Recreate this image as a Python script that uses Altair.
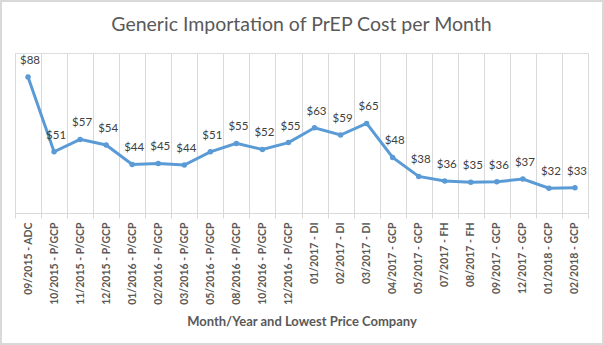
import altair as alt
import pandas as pd

months = ["09/2015 - ADC", "10/2015 - P/GCP", "11/2015 - P/GCP", "12/2015 - P/GCP",
          "01/2016 - P/GCP", "02/2016 - P/GCP", "03/2016 - P/GCP", "05/2016 - P/GCP",
          "08/2016 - P/GCP", "10/2016 - P/GCP", "12/2016 - P/GCP", "01/2017 - DI",
          "02/2017 - DI", "03/2017 - DI", "04/2017 - GCP", "05/2017 - GCP",
          "07/2017 - FH", "08/2017 - FH", "09/2017 - GCP", "12/2017 - GCP",
          "01/2018 - GCP", "02/2018 - GCP"]
costs = [88, 50.6, 56.8, 54, 44.3, 44.8, 44.0, 50.6, 54.8, 51.8, 55.2, 62.6,
         59, 64.8, 47.8, 38.3, 36.0, 35.4, 35.6, 37.0, 32.4, 32.6]
title_text = "Generic Importation of PrEP Cost per Month"

df = pd.DataFrame({"month": months, "cost": costs})

W, H = 573, 160
BLUE = "#5B9BD5"
GREY = "#595959"
FONT = "Lato"

x = alt.X("month:N", sort=None,
          scale=alt.Scale(type="band", paddingInner=0, paddingOuter=0),
          axis=alt.Axis(title="Month/Year and Lowest Price Company", tickBand="extent",
                        grid=True, gridColor="#d9d9d9", gridWidth=1,
                        domainColor="#d9d9d9", tickColor="#d9d9d9", tickSize=5,
                        labelAngle=-90, labelFont=FONT, labelFontSize=10.5,
                        labelFontWeight="bold", labelColor=GREY, labelPadding=4,
                        titleFont=FONT, titleFontSize=13, titleFontWeight="bold",
                        titleColor=GREY, titlePadding=11))
y = alt.Y("cost:Q", scale=alt.Scale(domain=[20, 100]), axis=None)

base = alt.Chart(df)
line = base.mark_line(color=BLUE, strokeWidth=3).encode(x=x, y=y)
pts = base.mark_point(color=BLUE, filled=True, opacity=1, size=30).encode(x=x, y=y)
txt = base.transform_calculate(lbl="'$' + format(datum.cost, '.0f')").mark_text(
    font=FONT, fontSize=11.5, color="#404040", dx=2, dy=-13,
    baseline="alphabetic").encode(x=x, y=y, text="lbl:N")
border = alt.Chart(pd.DataFrame({"a": [0]})).mark_rect(
    fill=None, stroke="#d9d9d9", strokeWidth=2).encode(
    x=alt.value(-14), x2=alt.value(W + 15), y=alt.value(-52), y2=alt.value(H + 131))
title = alt.Chart(pd.DataFrame({"t": [title_text]})).mark_text(
    font=FONT, fontSize=19.5, color=GREY, align="center", baseline="alphabetic").encode(
    x=alt.value(W / 2), y=alt.value(-22), text="t:N")

chart = alt.layer(border, line, pts, txt, title).properties(
    width=W, height=H,
    autosize=alt.AutoSizeParams(type="none"),
    padding={"left": 15, "top": 53, "right": 16, "bottom": 132},
).configure_view(stroke=None).configure(background="white")

chart.save("out.html", embed_options={"renderer": "svg", "actions": False})
